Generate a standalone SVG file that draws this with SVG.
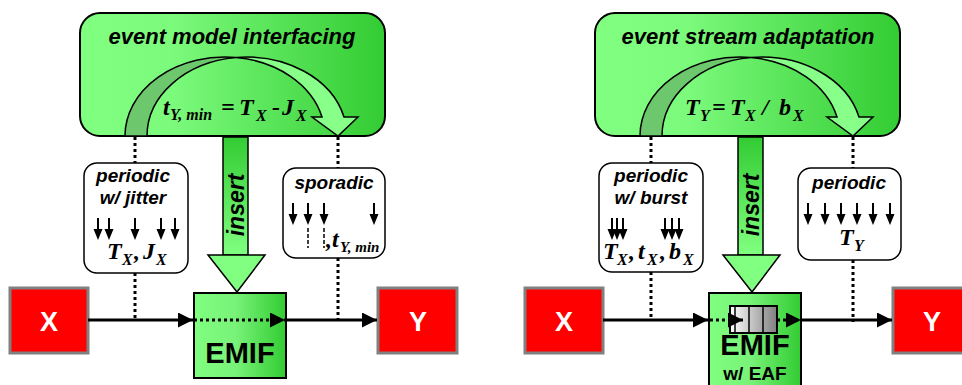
<svg xmlns="http://www.w3.org/2000/svg" width="962" height="385" viewBox="0 0 962 385">
  <defs>
    <linearGradient id="gTop" x1="0" y1="0" x2="1" y2="0">
      <stop offset="0" stop-color="#80FF80"/>
      <stop offset="0.3" stop-color="#7CFA7C"/>
      <stop offset="1" stop-color="#33CC33"/>
    </linearGradient>
    <linearGradient id="gEmif" x1="0" y1="0" x2="1" y2="0">
      <stop offset="0" stop-color="#80FF80"/>
      <stop offset="0.45" stop-color="#78F278"/>
      <stop offset="1" stop-color="#33CC33"/>
    </linearGradient>
    <linearGradient id="gShaft" x1="0" y1="0" x2="0" y2="1">
      <stop offset="0" stop-color="#33CC33"/>
      <stop offset="1" stop-color="#80FF80"/>
    </linearGradient>
    <linearGradient id="gQueue" x1="0" y1="0" x2="1" y2="0">
      <stop offset="0" stop-color="#FFFFFF"/>
      <stop offset="1" stop-color="#808080"/>
    </linearGradient>
    <marker id="ah" viewBox="0 0 10 10" refX="10" refY="5" markerWidth="5" markerHeight="5" orient="auto" markerUnits="strokeWidth">
      <path d="M0,0 L10,5 L0,10 Z" fill="#000"/>
    </marker>
    <!-- single event: short shaft with a filled head, 22 px tall -->
    <g id="ev">
      <line x1="0" y1="0" x2="0" y2="12" stroke="#000" stroke-width="2"/>
      <polygon points="-4.5,11 4.5,11 0,22" fill="#000"/>
    </g>
  </defs>
  <style>
    .panel { fill: url(#gTop); stroke: #000; stroke-width: 2; }
    .ttl { font-family: "Liberation Sans", Arial, sans-serif; font-weight: bold; font-style: italic; font-size: 22px; fill: #000; }
    .lbl { font-family: "Liberation Sans", Arial, sans-serif; font-weight: bold; font-style: italic; font-size: 19px; fill: #000; }
    .math { font-family: "Liberation Serif", "Times New Roman", serif; font-weight: bold; font-style: italic; fill: #000; }
    .big { font-size: 24px; }
    .sub { font-size: 16px; }
    .sub2 { font-size: 15px; }
    .back { fill: #6DC86D; stroke: #000; stroke-width: 1.5; }
    .front { fill: #88FF88; stroke: #000; stroke-width: 1.5; }
    .card { fill: #fff; stroke: #000; stroke-width: 1.5; }
    .task { fill: #FF0000; stroke: #808080; stroke-width: 3; }
    .tasktxt { font-family: "Liberation Sans", Arial, sans-serif; font-weight: bold; font-size: 27px; fill: #fff; text-anchor: middle; }
    .emif { fill: url(#gEmif); stroke: #000; stroke-width: 2; }
    .emiftxt { font-family: "Liberation Sans", Arial, sans-serif; font-weight: bold; font-size: 29px; fill: #000; text-anchor: middle; }
    .shaft { fill: url(#gShaft); stroke: #000; stroke-width: 1.5; }
    .head { fill: #80FF80; stroke: #000; stroke-width: 1.5; }
    .ins { font-family: "Liberation Sans", Arial, sans-serif; font-weight: bold; font-style: italic; font-size: 23px; fill: #000; text-anchor: middle; }
    .flow { stroke: #000; stroke-width: 3; fill: none; }
    .dot { stroke: #000; stroke-width: 3; stroke-dasharray: 3 3; fill: none; }
    .dash { stroke: #000; stroke-width: 1.5; stroke-dasharray: 4 2; fill: none; }
    .mid { text-anchor: middle; }
  </style>

  <!-- ===== left: event model interfacing ===== -->
  <g id="emi-panel">
    <rect class="panel" x="80" y="13" width="305" height="123" rx="20" ry="20"/>
    <text class="ttl mid" x="232" y="44">event model interfacing</text>
    <path class="back" d="M125,136 A100,79 0 0 1 236,57.5 A100,79 0 0 0 147,136 Z"/>
    <path class="front" d="M236,57.5 A100,79 0 0 1 344,117 L358,117 L338,136 L312,117 L322,117 A100,79 0 0 0 236,57.5 Z"/>
    <text class="math">
      <tspan class="big" x="163" y="115">t</tspan><tspan class="sub" x="170" y="120">Y, min</tspan><tspan class="big" x="221" y="115">=</tspan><tspan class="big" x="239" y="115">T</tspan><tspan class="sub" x="256" y="121">X</tspan><tspan class="big" x="272" y="115">-</tspan><tspan class="big" x="282" y="115">J</tspan><tspan class="sub" x="296" y="121">X</tspan>
    </text>
  </g>

  <g id="emi-input-model">
    <rect class="card" x="84" y="163" width="104" height="110" rx="13" ry="13"/>
    <text class="lbl mid" x="133" y="182">periodic</text>
    <text class="lbl mid" x="133" y="204">w/ jitter</text>
    <use href="#ev" x="98" y="218"/>
    <use href="#ev" x="109" y="218"/>
    <use href="#ev" x="135" y="218"/>
    <use href="#ev" x="161" y="218"/>
    <use href="#ev" x="175" y="218"/>
    <text class="math">
      <tspan class="big" x="107" y="259">T</tspan><tspan class="sub" x="122" y="265">X</tspan><tspan class="big" x="134" y="259">,</tspan><tspan class="big" x="143" y="259">J</tspan><tspan class="sub" x="156" y="265">X</tspan>
    </text>
  </g>

  <g id="emi-output-model">
    <rect class="card" x="283" y="168" width="102" height="90" rx="13" ry="13"/>
    <text class="lbl mid" x="334" y="189">sporadic</text>
    <use href="#ev" x="293" y="203"/>
    <use href="#ev" x="308" y="203"/>
    <use href="#ev" x="324" y="203"/>
    <use href="#ev" x="374" y="203"/>
    <line class="dash" x1="308" y1="228" x2="308" y2="248"/>
    <line class="dash" x1="324" y1="228" x2="324" y2="248"/>
    <text class="math">
      <tspan class="big" x="326" y="247">,</tspan><tspan class="big" x="332" y="247">t</tspan><tspan class="sub2" x="340" y="252">Y, min</tspan>
    </text>
  </g>

  <g id="emi-insert">
    <rect class="shaft" x="223" y="137" width="25" height="118"/>
    <polygon class="head" points="208,255 265,255 237,292"/>
    <text class="ins" transform="translate(244,205) rotate(-90)">insert</text>
  </g>

  <g id="emi-x">
    <rect class="task" x="10" y="288" width="78" height="65"/>
    <text class="tasktxt" x="49" y="331">X</text>
  </g>
  <g id="emi-box">
    <rect class="emif" x="194" y="293" width="92" height="85"/>
    <text class="emiftxt" x="240" y="363">EMIF</text>
  </g>
  <g id="emi-y">
    <rect class="task" x="378" y="288" width="79" height="65"/>
    <text class="tasktxt" x="418" y="331">Y</text>
  </g>

  <!-- ===== right: event stream adaptation ===== -->
  <g id="esa-panel">
    <rect class="panel" x="595" y="13" width="305" height="123" rx="20" ry="20"/>
    <text class="ttl mid" x="748" y="44">event stream adaptation</text>
    <path class="back" d="M640,136 A100,79 0 0 1 751,57.5 A100,79 0 0 0 662,136 Z"/>
    <path class="front" d="M751,57.5 A100,79 0 0 1 859,117 L873,117 L853,136 L827,117 L837,117 A100,79 0 0 0 751,57.5 Z"/>
    <text class="math">
      <tspan class="big" x="685" y="115">T</tspan><tspan class="sub" x="700" y="121">Y</tspan><tspan class="big" x="712" y="115">=</tspan><tspan class="big" x="730" y="115">T</tspan><tspan class="sub" x="745" y="121">X</tspan><tspan class="big" x="762" y="115">/</tspan><tspan class="big" x="779" y="115">b</tspan><tspan class="sub" x="793" y="121">X</tspan>
    </text>
  </g>

  <g id="esa-input-model">
    <rect class="card" x="599" y="163" width="104" height="109" rx="13" ry="13"/>
    <text class="lbl mid" x="651" y="182">periodic</text>
    <text class="lbl mid" x="651" y="204">w/ burst</text>
    <use href="#ev" x="612" y="218"/>
    <use href="#ev" x="617" y="218"/>
    <use href="#ev" x="623" y="218"/>
    <use href="#ev" x="665" y="218"/>
    <use href="#ev" x="672" y="218"/>
    <use href="#ev" x="679" y="218"/>
    <text class="math">
      <tspan class="big" x="603" y="259">T</tspan><tspan class="sub" x="617" y="265">X</tspan><tspan class="big" x="629" y="259">,</tspan><tspan class="big" x="638" y="259">t</tspan><tspan class="sub" x="647" y="265">X</tspan><tspan class="big" x="660" y="259">,</tspan><tspan class="big" x="669" y="259">b</tspan><tspan class="sub" x="683" y="265">X</tspan>
    </text>
  </g>

  <g id="esa-output-model">
    <rect class="card" x="798" y="168" width="103" height="92" rx="13" ry="13"/>
    <text class="lbl mid" x="849" y="189">periodic</text>
    <use href="#ev" x="808" y="203"/>
    <use href="#ev" x="825" y="203"/>
    <use href="#ev" x="841" y="203"/>
    <use href="#ev" x="857" y="203"/>
    <use href="#ev" x="873" y="203"/>
    <use href="#ev" x="890" y="203"/>
    <text class="math">
      <tspan class="big" x="839" y="245">T</tspan><tspan class="sub" x="854" y="251">Y</tspan>
    </text>
  </g>

  <g id="esa-insert">
    <rect class="shaft" x="738" y="137" width="25" height="118"/>
    <polygon class="head" points="723,255 780,255 752,292"/>
    <text class="ins" transform="translate(759,205) rotate(-90)">insert</text>
  </g>

  <g id="esa-x">
    <rect class="task" x="525" y="288" width="78" height="65"/>
    <text class="tasktxt" x="564" y="331">X</text>
  </g>
  <g id="esa-box">
    <rect class="emif" x="709" y="293" width="92" height="110"/>
    <text class="emiftxt" x="755" y="355">EMIF</text>
    <text class="emiftxt" x="755" y="380" style="font-size:19px">w/ EAF</text>
  </g>
  <g id="esa-y">
    <rect class="task" x="893" y="288" width="79" height="65"/>
    <text class="tasktxt" x="932" y="331">Y</text>
  </g>

  <!-- ===== connectors ===== -->
  <g id="connectors">
    <!-- left half -->
    <line class="dot" x1="135" y1="137" x2="135" y2="163"/>
    <line class="dot" x1="338" y1="137" x2="338" y2="168"/>
    <line class="dot" x1="135" y1="273" x2="135" y2="320"/>
    <line class="dot" x1="338" y1="258" x2="338" y2="322"/>
    <line class="flow" x1="88" y1="320" x2="193" y2="320" marker-end="url(#ah)"/>
    <line class="dot" x1="194" y1="320" x2="285" y2="320" marker-end="url(#ah)"/>
    <line class="flow" x1="287" y1="320" x2="377" y2="320" marker-end="url(#ah)"/>
    <!-- right half -->
    <line class="dot" x1="651" y1="137" x2="651" y2="163"/>
    <line class="dot" x1="853" y1="137" x2="853" y2="168"/>
    <line class="dot" x1="651" y1="272" x2="651" y2="320"/>
    <line class="dot" x1="853" y1="260" x2="853" y2="322"/>
    <line class="flow" x1="603" y1="320" x2="708" y2="320" marker-end="url(#ah)"/>
    <line class="flow" x1="802" y1="320" x2="892" y2="320" marker-end="url(#ah)"/>
  </g>

  <!-- event adaptation buffer inside the right EMIF -->
  <g id="esa-queue">
    <rect x="730" y="306" width="47" height="27" fill="url(#gQueue)" stroke="#000" stroke-width="2"/>
    <line x1="735" y1="306" x2="735" y2="333" stroke="#000" stroke-width="1.5"/>
    <line x1="749" y1="306" x2="749" y2="333" stroke="#000" stroke-width="1.5"/>
    <line x1="763" y1="306" x2="763" y2="333" stroke="#000" stroke-width="1.5"/>
    <line class="dot" x1="710" y1="320" x2="743" y2="320" marker-end="url(#ah)"/>
    <line class="dot" x1="777" y1="320" x2="801" y2="320" marker-end="url(#ah)"/>
  </g>
</svg>
